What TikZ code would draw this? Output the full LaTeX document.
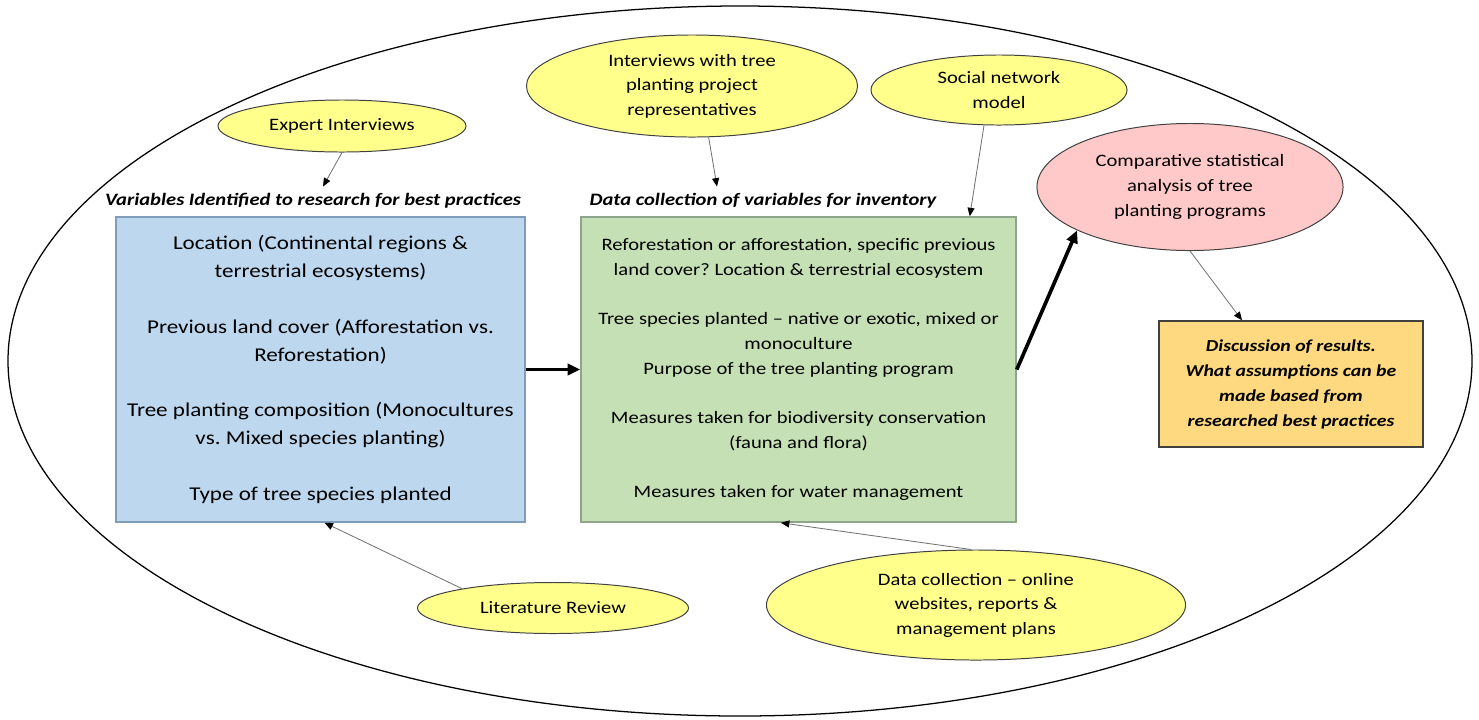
\documentclass[tikz,border=0pt]{standalone}
\usepackage{fontspec}
\setmainfont{Carlito}[FakeStretch=1.18]
\usepackage{tikz}
\usetikzlibrary{arrows.meta,shapes,positioning}
\frenchspacing

\definecolor{yellowfill}{HTML}{FFFF8C}
\definecolor{bluefill}{HTML}{BDD7EE}
\definecolor{blueline}{HTML}{7F9DB9}
\definecolor{greenfill}{HTML}{C5E0B4}
\definecolor{greenline}{HTML}{8FA58A}
\definecolor{pinkfill}{HTML}{FFC9C9}
\definecolor{goldfill}{HTML}{FFD97F}

\tikzset{
  method/.style={ellipse,draw=black!75,line width=0.7pt,fill=yellowfill,inner sep=0pt,
                 align=center,font=\fontsize{12.4}{17.4}\selectfont},
  varbox/.style={rectangle,line width=1pt,inner sep=0pt,align=center},
  heading/.style={font=\fontsize{12.4}{14}\selectfont\bfseries\itshape},
  thinarrow/.style={draw=black!55,line width=0.6pt,-{Triangle[black,length=6pt,width=5pt]}},
  thickarrow/.style={line width=2.6pt,-{Triangle[length=9pt,width=8pt]}}
}

\begin{document}
\begin{tikzpicture}[x=0.025cm,y=-0.025cm]
  \useasboundingbox (0,0) rectangle (1479,719); % page size

  \draw[line width=0.9pt] (740,361) ellipse (732 and 355); % outer frame

  % sources (yellow)
  \node[method,minimum width=6.2cm,minimum height=1.3cm] (expert) at (342,126) {Expert Interviews};
  \node[method,minimum width=8.275cm,minimum height=2.55cm] (intv) at (692,86) {Interviews with tree\\planting project\\representatives};
  \node[method,minimum width=6.4cm,minimum height=1.75cm] (social) at (999,90) {Social network\\model};
  \node[method,minimum width=6.775cm,minimum height=1.275cm] (litrev) at (553,608) {Literature Review};
  \node[method,minimum width=10.475cm,minimum height=2.75cm] (datacol) at (976,605) {Data collection -- online\\websites, reports \&\\management plans};

  % headings
  \node[heading] (hdrL) at (313,201) {Variables Identified to research for best practices};
  \node[heading] (hdrR) at (763,201) {Data collection of variables for inventory};

  % variable boxes
  \node[varbox,draw=blueline,fill=bluefill,minimum width=10.225cm,minimum height=7.625cm,
        font=\fontsize{13.9}{19.8}\selectfont] (vars) at (320.5,369.5)
    {Location (Continental regions \&\\terrestrial ecosystems)\\[19.8pt]
     Previous land cover (Afforestation vs.\\Reforestation)\\[19.8pt]
     Tree planting composition (Monocultures\\vs. Mixed species planting)\\[19.8pt]
     Type of tree species planted};
  \node[varbox,draw=greenline,fill=greenfill,minimum width=10.875cm,minimum height=7.625cm,
        font=\fontsize{12.4}{17.6}\selectfont] (inv) at (798.5,369.5)
    {Reforestation or afforestation, specific previous\\land cover? Location \& terrestrial ecosystem\\[17.6pt]
     Tree species planted -- native or exotic, mixed or\\monoculture\\Purpose of the tree planting program\\[17.6pt]
     Measures taken for biodiversity conservation\\(fauna and flora)\\[17.6pt]
     Measures taken for water management};

  % analysis and discussion
  \node[ellipse,draw=black!75,line width=0.7pt,fill=pinkfill,inner sep=0pt,align=center,
        minimum width=7.65cm,minimum height=3.175cm,font=\fontsize{12.4}{17.6}\selectfont] (compar) at (1190,187)
    {Comparative statistical\\analysis of tree\\planting programs};
  \node[varbox,draw=black!75,fill=goldfill,minimum width=6.6cm,minimum height=3.15cm,
        font=\fontsize{11.9}{17.8}\selectfont\bfseries\itshape] (disc) at (1291,384)
    {Discussion of results.\\What assumptions can be\\made based from\\researched best practices};

  % connectors
  \draw[thinarrow] (expert.south) -- ([xshift=0.25cm,yshift=0.05cm]hdrL.north);
  \draw[thinarrow] (intv.-72) -- ([xshift=-1.15cm,yshift=0.05cm]hdrR.north);
  \draw[thinarrow] (social.-113) -- ([xshift=-1.175cm]inv.north east);
  \draw[thinarrow] (compar.south) -- ([xshift=-1.225cm]disc.north);
  \draw[thinarrow] (litrev.168) -- ([xshift=0.1cm]vars.south);
  \draw[thinarrow] (datacol.95) -- ([xshift=-0.44cm]inv.south);

  \draw[thickarrow] (vars.east) -- (inv.west);
  \draw[thickarrow] (inv.east) -- (compar.201);
\end{tikzpicture}
\end{document}
